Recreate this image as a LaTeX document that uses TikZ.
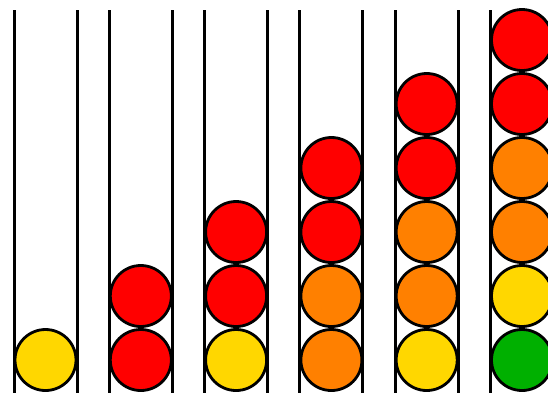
\documentclass[tikz,border=0pt]{standalone}
\definecolor{ballred}{HTML}{FF0000}
\definecolor{ballorange}{HTML}{FF8000}
\definecolor{ballyellow}{HTML}{FFD700}
\definecolor{ballgreen}{HTML}{00B000}
\begin{document}
\begin{tikzpicture}[x=1pt,y=-1pt,
  ball/.style={circle,draw=black,line width=2.8pt,minimum size=61pt,inner sep=0pt},
  tube/.style={draw=black,line width=3pt}]
\useasboundingbox (0,0) rectangle (548,392);
% tubes
\foreach \k in {0,...,5}{
  \pgfmathsetmacro{\cx}{45.5+95.3*\k}
  \draw[tube] (\cx-31.5,10) -- (\cx-31.5,400);
  \draw[tube] (\cx+31.5,10) -- (\cx+31.5,400);
}
% balls: column / level / colour
\foreach \c/\l/\col in {
  0/0/ballyellow,
  1/0/ballred, 1/1/ballred,
  2/0/ballyellow, 2/1/ballred, 2/2/ballred,
  3/0/ballorange, 3/1/ballorange, 3/2/ballred, 3/3/ballred,
  4/0/ballyellow, 4/1/ballorange, 4/2/ballorange, 4/3/ballred, 4/4/ballred,
  5/0/ballgreen, 5/1/ballyellow, 5/2/ballorange, 5/3/ballorange, 5/4/ballred, 5/5/ballred}{
  \node[ball,fill=\col] (b\c-\l) at ({45.5+95.3*\c},{360-64*\l}) {};
}
\end{tikzpicture}
\end{document}
